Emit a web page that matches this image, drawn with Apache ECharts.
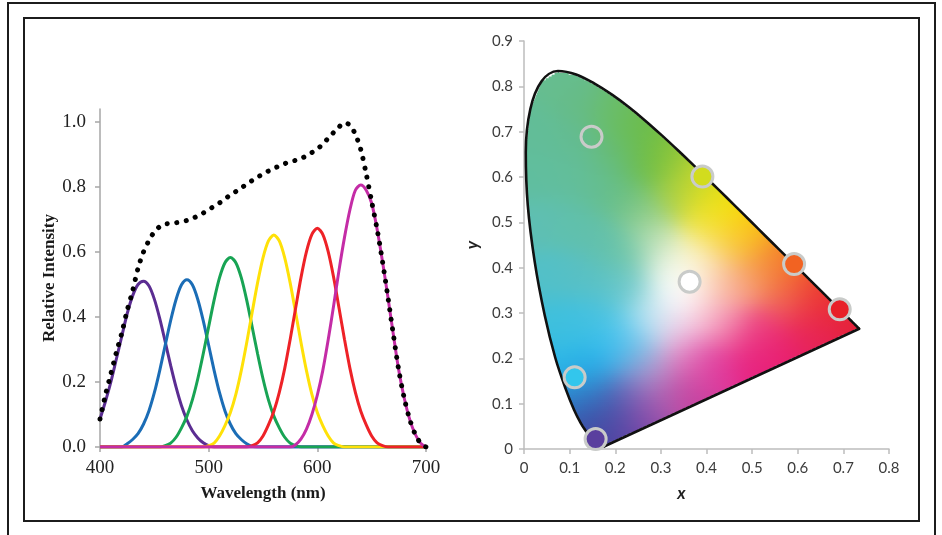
<!DOCTYPE html>
<html><head><meta charset="utf-8">
<script src="https://cdn.jsdelivr.net/npm/echarts@6/dist/echarts.min.js"></script>
<style>html,body{margin:0;padding:0;background:#fff;}#c{width:942px;height:535px;}</style>
</head><body><div id="c"></div>
<script>
// ---------- Left panel: spectra ----------
const wavelengths = [400,405,410,415,420,425,430,435,440,445,450,455,460,465,470,475,480,485,490,495,500,505,510,515,520,525,530,535,540,545,550,555,560,565,570,575,580,585,590,595,600,605,610,615,620,625,630,635,640,645,650,655,660,665,670,675,680,685,690,695,700];
const violetLED = [0.086,0.14,0.20,0.27,0.34,0.41,0.465,0.50,0.510,0.496,0.455,0.395,0.324,0.251,0.184,0.127,0.083,0.050,0.028,0.013,0.004,0,0,0,0,0,0,0,0,0,0,0,0,0,0,0,0,0,0,0,0,0,0,0,0,0,0,0,0,0,0,0,0,0,0,0,0,0,0,0,0];
const blueLED = [0,0,0,0,0,0.010,0.023,0.041,0.070,0.111,0.167,0.236,0.313,0.389,0.454,0.499,0.515,0.499,0.454,0.389,0.313,0.236,0.167,0.111,0.070,0.041,0.023,0.010,0.002,0,0,0,0,0,0,0,0,0,0,0,0,0,0,0,0,0,0,0,0,0,0,0,0,0,0,0,0,0,0,0,0];
const greenLED = [0,0,0,0,0,0,0,0,0,0,0,0,0.004,0.012,0.030,0.059,0.095,0.145,0.210,0.287,0.370,0.452,0.521,0.567,0.583,0.567,0.521,0.452,0.370,0.287,0.210,0.145,0.095,0.059,0.030,0.012,0.004,0,0,0,0,0,0,0,0,0,0,0,0,0,0,0,0,0,0,0,0,0,0,0,0];
const yellowLED = [0,0,0,0,0,0,0,0,0,0,0,0,0,0,0,0,0,0,0,0,0.004,0.012,0.034,0.066,0.106,0.162,0.235,0.321,0.414,0.505,0.582,0.634,0.652,0.634,0.582,0.505,0.414,0.321,0.235,0.162,0.106,0.066,0.034,0.012,0.004,0,0,0,0,0,0,0,0,0,0,0,0,0,0,0,0];
const redLED = [0,0,0,0,0,0,0,0,0,0,0,0,0,0,0,0,0,0,0,0,0,0,0,0,0,0,0,0,0.004,0.013,0.034,0.068,0.110,0.168,0.242,0.331,0.427,0.522,0.601,0.654,0.673,0.654,0.601,0.522,0.427,0.331,0.242,0.168,0.110,0.068,0.034,0.013,0.004,0,0,0,0,0,0,0,0];
const magentaLED = [0,0,0,0,0,0,0,0,0,0,0,0,0,0,0,0,0,0,0,0,0,0,0,0,0,0,0,0,0,0,0,0,0,0,0,0,0.007,0.025,0.055,0.10,0.16,0.235,0.33,0.435,0.545,0.645,0.73,0.79,0.806,0.79,0.75,0.67,0.57,0.46,0.345,0.235,0.15,0.085,0.04,0.012,0];
const totalSpectrum = [0.086,0.16,0.225,0.29,0.35,0.42,0.48,0.55,0.60,0.635,0.662,0.678,0.686,0.688,0.69,0.693,0.697,0.703,0.711,0.72,0.73,0.741,0.751,0.763,0.776,0.786,0.797,0.809,0.82,0.83,0.84,0.849,0.857,0.865,0.872,0.878,0.882,0.888,0.896,0.906,0.917,0.932,0.95,0.968,0.985,0.998,0.99,0.962,0.915,0.84,0.755,0.67,0.57,0.46,0.345,0.235,0.15,0.085,0.04,0.012,0];
const leftYTicks = [0,0.2,0.4,0.6,0.8,1.0];

// ---------- Right panel: CIE 1931 chromaticity ----------
const locusX = [0.1741,0.1740,0.1738,0.1736,0.1733,0.1730,0.1726,0.1721,0.1714,0.1703,0.1689,0.1669,0.1644,0.1611,0.1566,0.1510,0.1440,0.1355,0.1241,0.1096,0.0913,0.0687,0.0454,0.0235,0.0082,0.0039,0.0139,0.0389,0.0743,0.1142,0.1547,0.1929,0.2296,0.2658,0.3016,0.3373,0.3731,0.4087,0.4441,0.4788,0.5125,0.5448,0.5752,0.6029,0.6270,0.6482,0.6658,0.6801,0.6915,0.7006,0.7079,0.7140,0.7190,0.7230,0.7260,0.7283,0.7300,0.7311,0.7320,0.7327,0.7334,0.7340,0.7344,0.7346,0.7347];
const locusY = [0.0050,0.0050,0.0049,0.0049,0.0048,0.0048,0.0048,0.0048,0.0051,0.0058,0.0069,0.0086,0.0109,0.0138,0.0177,0.0227,0.0297,0.0399,0.0578,0.0868,0.1327,0.2007,0.2950,0.4127,0.5384,0.6548,0.7502,0.8120,0.8338,0.8262,0.8059,0.7816,0.7543,0.7243,0.6923,0.6589,0.6245,0.5896,0.5547,0.5202,0.4866,0.4544,0.4242,0.3965,0.3725,0.3514,0.3340,0.3197,0.3083,0.2993,0.2920,0.2859,0.2809,0.2770,0.2740,0.2717,0.2700,0.2689,0.2680,0.2673,0.2666,0.2660,0.2656,0.2654,0.2653];
const sourceX = [0.148,0.391,0.592,0.692,0.363,0.111,0.157];
const sourceY = [0.689,0.601,0.408,0.308,0.369,0.158,0.022];

// styles (kept apart from the data)
const sourceFill = ['rgba(0,0,0,0)','#d2dc1e','#f26322','#e82028','#ffffff','#33c6ec','#5a3f9e'];
const fillAnchors = [
 [0.07,0.82,'#66bd90'],[0.03,0.70,'#62bd98'],[0.12,0.77,'#66bc88'],[0.12,0.68,'#63bc92'],
 [0.19,0.74,'#6abd68'],[0.20,0.65,'#66bc7a'],[0.25,0.70,'#6cbd48'],[0.27,0.62,'#6bbc45'],
 [0.32,0.64,'#88c53a'],[0.33,0.56,'#a8d04a'],[0.37,0.60,'#c2d62c'],[0.40,0.56,'#dcdc1e'],
 [0.43,0.53,'#f7e400'],[0.40,0.50,'#f4e650'],[0.47,0.49,'#fcd000'],[0.50,0.46,'#f8b21a'],
 [0.45,0.45,'#f8d070'],[0.55,0.42,'#f48224'],[0.58,0.39,'#f26524'],[0.52,0.39,'#f6a060'],
 [0.63,0.35,'#ee4430'],[0.67,0.32,'#e92c30'],[0.72,0.27,'#e42038'],[0.57,0.33,'#f06a60'],
 [0.62,0.28,'#ea2c50'],[0.65,0.245,'#e62058'],
 [0.335,0.34,'#ffffff'],[0.36,0.37,'#ffffff'],[0.38,0.43,'#fbf2c0'],[0.31,0.40,'#eef5e6'],
 [0.29,0.46,'#c8e4b8'],[0.26,0.52,'#8ccc8c'],[0.22,0.56,'#66be86'],[0.42,0.37,'#fad0b0'],
 [0.47,0.36,'#f7a088'],[0.40,0.30,'#f8c8d8'],[0.45,0.27,'#f078a8'],[0.52,0.26,'#ec3c80'],
 [0.50,0.20,'#e8207e'],[0.57,0.22,'#e81e6e'],[0.42,0.18,'#e0389c'],[0.36,0.20,'#e070b8'],
 [0.33,0.26,'#f0c8e4'],[0.29,0.30,'#dff0f8'],[0.26,0.27,'#a8e0f4'],[0.22,0.25,'#50c8f0'],
 [0.19,0.22,'#28baf0'],[0.24,0.20,'#6ab0e0'],[0.28,0.18,'#c8a0d0'],[0.30,0.12,'#b060b0'],
 [0.36,0.12,'#c8409f'],[0.26,0.07,'#8a48a8'],[0.21,0.04,'#6448a8'],[0.18,0.02,'#4a40a0'],
 [0.16,0.05,'#3a4ca0'],[0.145,0.09,'#3460b4'],[0.19,0.10,'#4a55a8'],[0.23,0.13,'#7a6cbc'],
 [0.13,0.13,'#2a90d4'],[0.15,0.17,'#26aeea'],[0.10,0.20,'#2cb8e8'],
 [0.07,0.28,'#3ec0dc'],[0.12,0.27,'#40c0e2'],[0.17,0.29,'#48c2e0'],[0.05,0.38,'#52c0c8'],
 [0.12,0.38,'#58c0c4'],[0.19,0.36,'#5cc2c4'],[0.24,0.35,'#78ccd0'],[0.03,0.50,'#5ebfb4'],
 [0.10,0.50,'#60c0ac'],[0.17,0.46,'#62c0ac'],[0.23,0.43,'#6ac4a4'],[0.02,0.60,'#60be9e'],
 [0.09,0.60,'#62be9c'],[0.16,0.58,'#64be94']
];

const anchorsRGB = fillAnchors.map(a => [a[0], a[1], parseInt(a[2].slice(1,3),16), parseInt(a[2].slice(3,5),16), parseInt(a[2].slice(5,7),16)]);
function fieldColor(x, y) {
  const h2 = 2 * 0.04 * 0.04;
  let sw = 0, r = 0, g = 0, b = 0;
  for (const a of anchorsRGB) {
    const d2 = (x - a[0]) ** 2 + (y - a[1]) ** 2;
    const w = Math.exp(-d2 / h2) + 1e-12 / (d2 + 1e-6);
    sw += w; r += w * a[2]; g += w * a[3]; b += w * a[4];
  }
  return 'rgb(' + Math.round(r / sw) + ',' + Math.round(g / sw) + ',' + Math.round(b / sw) + ')';
}
const locus = locusX.map((x, i) => [x, locusY[i]]);
function rowRange(y) {
  const xs = [];
  const n = locus.length;
  for (let i = 0; i < n; i++) {
    const a = locus[i], b = locus[(i + 1) % n];
    if ((a[1] <= y && b[1] > y) || (b[1] <= y && a[1] > y)) {
      const t = (y - a[1]) / (b[1] - a[1]);
      xs.push(a[0] + t * (b[0] - a[0]));
    }
  }
  if (xs.length < 2) return null;
  return [Math.min(...xs), Math.max(...xs)];
}
function renderGamut(params, api) {
  const children = [];
  const dy = 0.004;
  const yMax = Math.max(...locusY), yMin = Math.min(...locusY);
  for (let y = yMin + dy / 2; y < yMax; y += dy) {
    const rm = rowRange(y);
    if (!rm) continue;
    const ra = rowRange(y - dy / 2 - 0.0005), rb = rowRange(y + dy / 2 + 0.0005);
    let x0 = rm[0], x1 = rm[1];
    if (ra) { x0 = Math.max(x0, ra[0]); x1 = Math.min(x1, ra[1]); }
    if (rb) { x0 = Math.max(x0, rb[0]); x1 = Math.min(x1, rb[1]); }
    if (x1 <= x0) { x0 = rm[0]; x1 = rm[1]; }
    const n = Math.max(2, Math.ceil((x1 - x0) / 0.008) + 1);
    const stops = [];
    for (let k = 0; k < n; k++) {
      const t = k / (n - 1);
      stops.push({ offset: t, color: fieldColor(x0 + t * (x1 - x0), y) });
    }
    const pA = api.coord([x0, y + dy / 2]), pB = api.coord([x1, y - dy / 2]);
    children.push({ type: 'rect', shape: { x: pA[0], y: pA[1] - 0.4, width: pB[0] - pA[0], height: pB[1] - pA[1] + 0.8 },
      style: { fill: { type: 'linear', x: 0, y: 0, x2: 1, y2: 0, colorStops: stops } } });
  }
  return { type: 'group', children };
}

const pair = arr => wavelengths.map((w, i) => [w, arr[i]]);
const serif = 'Liberation Serif';
const axisGray = '#a6a6a6';

const ledSeries = [
  ['Violet', violetLED, '#5b2d92'],
  ['Blue', blueLED, '#1b6db6'],
  ['Green', greenLED, '#18a454'],
  ['Yellow', yellowLED, '#ffe108'],
  ['Red', redLED, '#ee2227'],
  ['Magenta', magentaLED, '#c42ca6']
].map(s => ({
  name: s[0], type: 'line', xAxisIndex: 0, yAxisIndex: 0, data: pair(s[1]),
  showSymbol: false, smooth: 0.3, lineStyle: { color: s[2], width: 3 }, z: 3
}));

const chart = echarts.init(document.getElementById('c'), null, { renderer: 'canvas' });
chart.setOption({
  animation: false,
  backgroundColor: '#ffffff',
  graphic: [
    { type: 'rect', shape: { x: 8, y: 3, width: 927, height: 600 }, style: { fill: 'none', stroke: '#1c1c1c', lineWidth: 2 }, z: 0 },
    { type: 'rect', shape: { x: 24, y: 18, width: 895, height: 503 }, style: { fill: 'none', stroke: '#1c1c1c', lineWidth: 2 }, z: 0 }
  ],
  grid: [
    { left: 100, top: 109, width: 326, height: 338 },
    { left: 524, top: 41, width: 365, height: 408 }
  ],
  xAxis: [
    { gridIndex: 0, type: 'value', min: 400, max: 700, interval: 100,
      name: 'Wavelength (nm)', nameLocation: 'middle', nameGap: 38,
      nameTextStyle: { fontFamily: serif, fontWeight: 'bold', fontSize: 17, color: '#1a1a1a' },
      axisLine: { lineStyle: { color: axisGray, width: 1.5 } },
      axisTick: { show: true, length: 5, lineStyle: { color: axisGray, width: 1.5 } },
      axisLabel: { fontFamily: serif, fontSize: 19, color: '#222', margin: 12 },
      splitLine: { show: false } },
    { gridIndex: 1, type: 'value', min: 0, max: 0.8, interval: 0.1,
      name: 'x', nameLocation: 'middle', nameGap: 36,
      nameTextStyle: { fontFamily: 'Lato', fontWeight: 'bold', fontStyle: 'italic', fontSize: 17, color: '#222', padding: [0, 50, 0, 0] },
      axisLine: { lineStyle: { color: '#bdbdbd', width: 1.5 } },
      axisTick: { show: true, length: 5, lineStyle: { color: '#bdbdbd', width: 1.5 } },
      axisLabel: { fontFamily: 'Lato', fontSize: 15, color: '#3c3c3c', margin: 12,
        formatter: v => (Math.abs(v) < 1e-9 ? '0' : v.toFixed(1)) },
      splitLine: { show: false } }
  ],
  yAxis: [
    { gridIndex: 0, type: 'value', min: 0, max: 1.04,
      name: 'Relative Intensity', nameLocation: 'middle', nameGap: 42,
      nameTextStyle: { fontFamily: serif, fontWeight: 'bold', fontSize: 17, color: '#1a1a1a' },
      axisLine: { show: true, lineStyle: { color: axisGray, width: 1.5 } },
      axisTick: { show: true, length: 5, customValues: leftYTicks, lineStyle: { color: axisGray, width: 1.5 } },
      axisLabel: { fontFamily: serif, fontSize: 19, color: '#222', margin: 14, customValues: leftYTicks,
        formatter: v => v.toFixed(1) },
      splitLine: { show: false } },
    { gridIndex: 1, type: 'value', min: 0, max: 0.9, interval: 0.1,
      name: 'y', nameLocation: 'middle', nameGap: 43,
      nameTextStyle: { fontFamily: 'Lato', fontWeight: 'bold', fontStyle: 'italic', fontSize: 17, color: '#222' },
      axisLine: { show: true, lineStyle: { color: '#bdbdbd', width: 1.5 } },
      axisTick: { show: true, length: 5, lineStyle: { color: '#bdbdbd', width: 1.5 } },
      axisLabel: { fontFamily: 'Lato', fontSize: 15, color: '#3c3c3c', margin: 11,
        formatter: v => (Math.abs(v) < 1e-9 ? '0' : v.toFixed(1)) },
      splitLine: { show: false } }
  ],
  series: [
    ...ledSeries,
    { name: 'Total', type: 'line', xAxisIndex: 0, yAxisIndex: 0, data: pair(totalSpectrum),
      showSymbol: false, smooth: 0.3, z: 4,
      lineStyle: { color: '#000', width: 5, type: [0.1, 9.5], cap: 'round' } },
    { name: 'gamut', type: 'custom', xAxisIndex: 1, yAxisIndex: 1, data: [[0, 0]],
      renderItem: renderGamut, silent: true, z: 1 },
    { name: 'spectral locus', type: 'line', xAxisIndex: 1, yAxisIndex: 1,
      data: locus, showSymbol: false, silent: true, z: 2, smooth: 0.35,
      lineStyle: { color: '#111', width: 2.6, join: 'round', cap: 'round' } },
    { name: 'purple line', type: 'line', xAxisIndex: 1, yAxisIndex: 1,
      data: [locus[locus.length - 1], locus[0]], showSymbol: false, silent: true, z: 2,
      lineStyle: { color: '#111', width: 2.6, join: 'round', cap: 'round' } },
    { name: 'sources', type: 'scatter', xAxisIndex: 1, yAxisIndex: 1, z: 5, symbolSize: 21,
      data: sourceX.map((x, i) => ({ value: [x, sourceY[i]],
        itemStyle: { color: sourceFill[i], borderColor: '#c9cbc9', borderWidth: 3, opacity: 1 } })) }
  ]
});
</script></body></html>
